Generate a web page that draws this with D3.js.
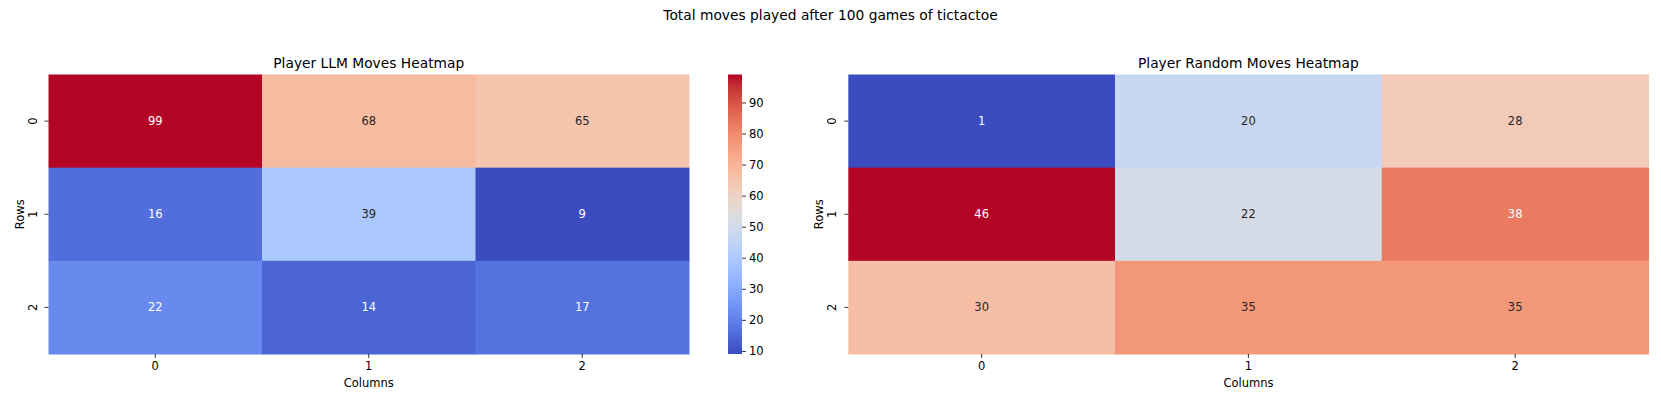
<!DOCTYPE html>
<html><head><meta charset="utf-8">
<script src="https://cdn.jsdelivr.net/npm/d3@7"></script>
<style>body{margin:0;background:#fff}svg{display:block}text{font-family:"DejaVu Sans",sans-serif}</style>
</head><body><svg id="c" width="1661" height="415"></svg>
<script>
const rows = ["0","1","2"];
const cols = ["0","1","2"];
const llmValues = [[99,68,65],[16,39,9],[22,14,17]];
const randomValues = [[1,20,28],[46,22,38],[30,35,35]];
const colorbarTicks = [10,20,30,40,50,60,70,80,90];
const suptitle = "Total moves played after 100 games of tictactoe";
const titles = ["Player LLM Moves Heatmap","Player Random Moves Heatmap"];
// coolwarm (Moreland) stops
const cw = [[59,76,192],[68,90,204],[77,104,215],[87,117,225],[98,130,234],[108,142,241],[119,154,247],[130,165,251],[141,176,254],[152,185,255],[163,194,255],[174,201,253],[184,208,249],[194,213,244],[204,217,238],[213,219,230],[221,221,221],[229,216,209],[236,211,197],[241,204,185],[245,196,173],[247,187,160],[247,177,148],[247,166,135],[244,154,123],[241,141,111],[236,127,99],[229,112,88],[222,96,77],[213,80,66],[203,62,56],[192,40,47],[180,4,38]];
const cwScale = d3.scaleLinear().domain(cw.map((_,i)=>i/(cw.length-1))).range(cw.map(c=>`rgb(${c[0]},${c[1]},${c[2]})`)).interpolate(d3.interpolateRgb).clamp(true);

const svg = d3.select("#c");
svg.append("text").attr("x",830.5).attr("y",20).attr("text-anchor","middle").attr("font-size",13.8).attr("fill","#000").text(suptitle);

function lum(col){
  const c = d3.rgb(col);
  const f = v=>{v/=255;return v<=0.03928? v/12.92 : Math.pow((v+0.055)/1.055,2.4);};
  return 0.2126*f(c.r)+0.7152*f(c.g)+0.0722*f(c.b);
}

function heatmap(values, x0, x1, y0, y1, title){
  const flat = values.flat();
  const vmin = d3.min(flat), vmax = d3.max(flat);
  const norm = d3.scaleLinear().domain([vmin,vmax]).range([0,1]);
  const color = v=>cwScale(norm(v));
  const x = d3.scaleBand().domain(cols).range([x0,x1]);
  const y = d3.scaleBand().domain(rows).range([y0,y1]);
  const g = svg.append("g");
  values.forEach((row,i)=>row.forEach((v,j)=>{
    const fill = color(v);
    g.append("rect").attr("x",x(cols[j])).attr("y",y(rows[i])).attr("width",x.bandwidth()+0.5).attr("height",y.bandwidth()+0.5).attr("fill",fill);
    g.append("text").attr("x",x(cols[j])+x.bandwidth()/2).attr("y",y(rows[i])+y.bandwidth()/2).attr("dy","0.35em")
      .attr("text-anchor","middle").attr("font-size",11.5).attr("fill", lum(fill)>0.408?"#262626":"#fff").text(v);
  }));
  const xa = svg.append("g").attr("transform",`translate(0,${y1})`).call(d3.axisBottom(x).tickSize(4).tickPadding(4));
  xa.select(".domain").remove();
  xa.selectAll("text").attr("font-size",11.5).attr("fill","#000").style("font-family","DejaVu Sans");
  xa.selectAll("line").attr("stroke","#000").attr("stroke-width",0.8);
  const ya = svg.append("g").attr("transform",`translate(${x0},0)`).call(d3.axisLeft(y).tickSize(4).tickPadding(4));
  ya.select(".domain").remove();
  ya.selectAll("line").attr("stroke","#000").attr("stroke-width",0.8);
  ya.selectAll("text").attr("font-size",11.5).attr("fill","#000").style("font-family","DejaVu Sans")
    .attr("x",null).attr("dy",null).attr("text-anchor","middle")
    .attr("transform","translate(-12,0) rotate(-90)").attr("dy","0");
  svg.append("text").attr("x",(x0+x1)/2).attr("y",y1+33).attr("text-anchor","middle").attr("font-size",11.5).text("Columns");
  svg.append("text").attr("transform",`translate(${x0-25},${(y0+y1)/2}) rotate(-90)`).attr("text-anchor","middle").attr("font-size",11.5).text("Rows");
  svg.append("text").attr("x",(x0+x1)/2).attr("y",y0-7).attr("text-anchor","middle").attr("font-size",13.8).text(title);
  return {vmin,vmax};
}

const L = heatmap(llmValues, 48.5, 689, 74.5, 354, titles[0]);
heatmap(randomValues, 848.3, 1648.5, 74.5, 354, titles[1]);

// colorbar
const cbX = 728, cbW = 14, cbTop = 74.5, cbBot = 354;
const defs = svg.append("defs");
const grad = defs.append("linearGradient").attr("id","cwg").attr("x1",0).attr("y1",1).attr("x2",0).attr("y2",0);
cw.forEach((c,i)=>grad.append("stop").attr("offset",i/(cw.length-1)).attr("stop-color",`rgb(${c[0]},${c[1]},${c[2]})`));
svg.append("rect").attr("x",cbX).attr("y",cbTop).attr("width",cbW).attr("height",cbBot-cbTop).attr("fill","url(#cwg)");
const cy = d3.scaleLinear().domain([L.vmin,L.vmax]).range([cbBot,cbTop]);
const ca = svg.append("g").attr("transform",`translate(${cbX+cbW},0)`).call(d3.axisRight(cy).tickValues(colorbarTicks).tickSize(4).tickPadding(3));
ca.select(".domain").remove();
ca.selectAll("line").attr("stroke","#000").attr("stroke-width",0.8);
ca.selectAll("text").attr("font-size",11.5).attr("fill","#000").style("font-family","DejaVu Sans");
</script></body></html>
